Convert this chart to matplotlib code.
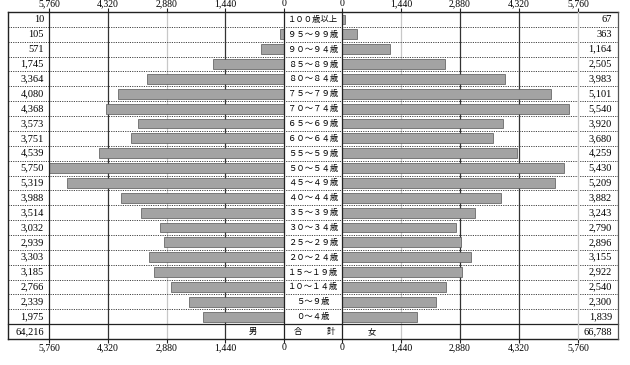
import matplotlib
matplotlib.use('Agg')
import matplotlib.pyplot as plt
from matplotlib import transforms
from matplotlib.lines import Line2D

plt.rcParams['font.family'] = ['Noto Sans CJK JP', 'DejaVu Sans']

age_labels = ['１００歳以上', '９５～９９歳', '９０～９４歳', '８５～８９歳', '８０～８４歳',
              '７５～７９歳', '７０～７４歳', '６５～６９歳', '６０～６４歳', '５５～５９歳',
              '５０～５４歳', '４５～４９歳', '４０～４４歳', '３５～３９歳', '３０～３４歳',
              '２５～２９歳', '２０～２４歳', '１５～１９歳', '１０～１４歳', '５～９歳', '０～４歳']
male = [10, 105, 571, 1745, 3364, 4080, 4368, 3573, 3751, 4539, 5750,
        5319, 3988, 3514, 3032, 2939, 3303, 3185, 2766, 2339, 1975]
female = [67, 363, 1164, 2505, 3983, 5101, 5540, 3920, 3680, 4259, 5430,
          5209, 3882, 3243, 2790, 2896, 3155, 2922, 2540, 2300, 1839]
male_total = 64216
female_total = 66788
ticks = [0, 1440, 2880, 4320, 5760]
tick_labels = ['0', '1,440', '2,880', '4,320', '5,760']

W, H = 630, 365
fig = plt.figure(figsize=(6.3, 3.65), dpi=100)
fig.patch.set_facecolor('white')

numfont = ['Liberation Serif', 'DejaVu Serif']


def fx(px):
    return px / W


def fy(py):
    return 1 - py / H


top, bot = 12, 339
xL0, xL1 = 49, 284
xR0, xR1 = 342, 578
axL = fig.add_axes([fx(xL0), fy(bot), fx(xL1) - fx(xL0), fy(top) - fy(bot)])
axR = fig.add_axes([fx(xR0), fy(bot), fx(xR1) - fx(xR0), fy(top) - fy(bot)])
n = len(age_labels) + 1

for ax in (axL, axR):
    ax.set_ylim(n - 0.5, -0.5)
    ax.set_yticks([])
    for s in ax.spines.values():
        s.set_visible(False)
    ax.set_xticks(ticks)
    ax.set_xticklabels(tick_labels, fontfamily=numfont)
    ax.tick_params(axis='x', top=True, bottom=True, labeltop=True, labelbottom=True,
                   direction='out', length=3, width=0.8, pad=0, labelsize=7,
                   color='#222222')
    ax.patch.set_alpha(0)

axL.set_xlim(5760, 0)
axR.set_xlim(0, 5760)

dark = '#333333'
light = '#c8c8c8'
for x, c in [(1440, dark), (2880, light), (4320, dark)]:
    axL.axvline(x, color=c, lw=0.9, zorder=0)
for x, c in [(1440, light), (2880, dark), (4320, dark)]:
    axR.axvline(x, color=c, lw=0.9, zorder=0)

ys = list(range(len(male)))
axL.barh(ys, male, height=0.66, color='#a3a3a3', edgecolor='#555555', linewidth=0.5, zorder=2)
axR.barh(ys, female, height=0.66, color='#a3a3a3', edgecolor='#555555', linewidth=0.5, zorder=2)

trans = transforms.blended_transform_factory(fig.transFigure, axL.transData)

# horizontal separators
for k in range(n - 2):
    fig.add_artist(Line2D([fx(8), fx(618)], [k + 0.5, k + 0.5], transform=trans,
                          color='#444444', lw=0.7, linestyle=(0, (1.2, 1.2))))
fig.add_artist(Line2D([fx(8), fx(618)], [n - 1.5, n - 1.5], transform=trans,
                      color='#222222', lw=0.9))
for yy in (-0.5, n - 0.5):
    fig.add_artist(Line2D([fx(8), fx(618)], [yy, yy], transform=trans,
                          color='#222222', lw=1.0))

# vertical lines
for x, c, lw in [(8, '#222222', 1.0), (xL0, '#222222', 0.9), (xL1, '#222222', 0.9),
                 (xR0, '#222222', 0.9), (xR1, light, 0.9), (618, '#555555', 0.9)]:
    fig.add_artist(Line2D([fx(x), fx(x)], [-0.5, n - 0.5], transform=trans,
                          color=c, lw=lw))

# text columns
for i, (lab, m, f) in enumerate(zip(age_labels, male, female)):
    fig.text(fx(44), i, f'{m:,}', transform=trans, ha='right', va='center',
             fontsize=7.5, fontfamily=numfont)
    fig.text(fx(612), i, f'{f:,}', transform=trans, ha='right', va='center',
             fontsize=7.5, fontfamily=numfont)
    fig.text(fx(313), i, lab, transform=trans, ha='center', va='center', fontsize=6)

t = n - 1
fig.text(fx(44), t, f'{male_total:,}', transform=trans, ha='right', va='center',
         fontsize=7.5, fontfamily=numfont)
fig.text(fx(612), t, f'{female_total:,}', transform=trans, ha='right', va='center',
         fontsize=7.5, fontfamily=numfont)
fig.text(fx(253), t, '男', transform=trans, ha='center', va='center', fontsize=6)
fig.text(fx(298), t, '合', transform=trans, ha='center', va='center', fontsize=6)
fig.text(fx(331), t, '計', transform=trans, ha='center', va='center', fontsize=6)
fig.text(fx(372), t, '女', transform=trans, ha='center', va='center', fontsize=6)

fig.savefig('out.png', dpi=100)
